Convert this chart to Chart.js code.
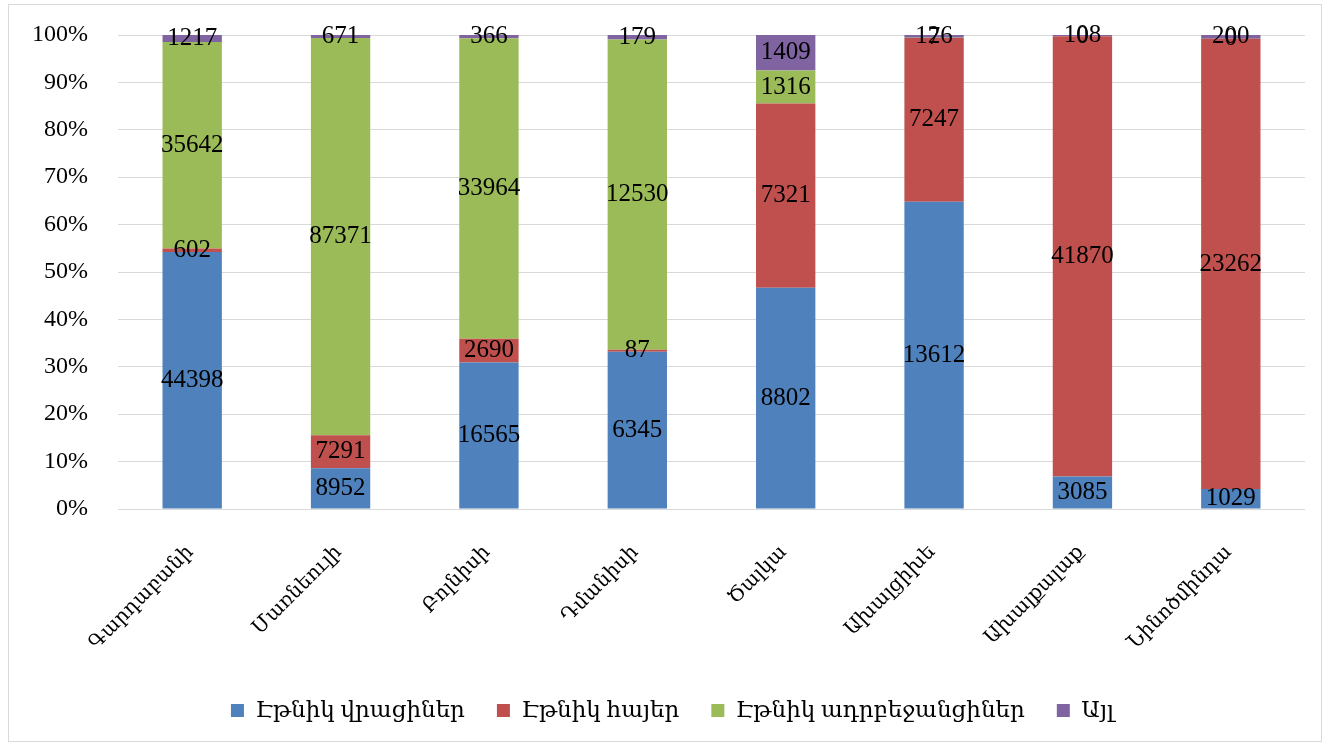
<!DOCTYPE html>
<html>
<head>
<meta charset="utf-8">
<script src="https://cdn.jsdelivr.net/npm/chart.js@4/dist/chart.umd.min.js"></script>
<style>
  html, body { margin: 0; padding: 0; background: #fff; }
  #wrap { width: 1330px; height: 746px; position: relative; }
</style>
</head>
<body>
<div id="wrap"><canvas id="c" width="1330" height="746"></canvas></div>
<script>
// Municipalities
const categories = ["Գարդաբանի", "Մառնեուլի", "Բոլնիսի", "Դմանիսի", "Ծալկա", "Ախալցիխե", "Ախալքալաք", "Նինոծմինդա"];
// Population counts per ethnic group
const georgians    = [44398, 8952, 16565, 6345, 8802, 13612, 3085, 1029];
const armenians    = [602, 7291, 2690, 87, 7321, 7247, 41870, 23262];
const azerbaijanis = [35642, 87371, 33964, 12530, 1316, 7, 0, 0];
const others       = [1217, 671, 366, 179, 1409, 126, 108, 200];
const seriesNames  = ["Էթնիկ վրացիներ", "Էթնիկ հայեր", "Էթնիկ ադրբեջանցիներ", "Այլ"];
const seriesColors = ["#4F81BD", "#C0504D", "#9BBB59", "#8064A2"];
const yTicks = [0, 10, 20, 30, 40, 50, 60, 70, 80, 90, 100];

const FONT = '"Liberation Serif", "DejaVu Serif", serif';
const raw = [georgians, armenians, azerbaijanis, others];
const totals = categories.map((_, i) => raw.reduce((s, arr) => s + arr[i], 0));

const datasets = raw.map((arr, k) => ({
  label: seriesNames[k],
  data: arr.map((v, i) => v / totals[i] * 100),
  counts: arr,
  backgroundColor: seriesColors[k],
  borderWidth: 0,
  barPercentage: 0.4,
  categoryPercentage: 1.0,
  stack: "s"
}));

// Border around the whole chart
const framePlugin = {
  id: "frame",
  beforeDraw(chart) {
    const ctx = chart.ctx;
    ctx.save();
    ctx.fillStyle = "#fff";
    ctx.fillRect(0, 0, chart.width, chart.height);
    ctx.strokeStyle = "#d9d9d9";
    ctx.lineWidth = 1;
    ctx.strokeRect(8.5, 4.5, 1313, 737);
    ctx.restore();
  }
};

// Nudge the legend row a little to the right
const legendShift = {
  id: "legendShift",
  afterLayout(chart) {
    if (chart.legend) {
      chart.legend.left += 20;
      chart.legend.right += 20;
    }
  }
};

// Count labels centred in each bar segment
const countLabels = {
  id: "countLabels",
  afterDatasetsDraw(chart) {
    const ctx = chart.ctx;
    ctx.save();
    ctx.font = "25px " + FONT;
    ctx.fillStyle = "#000";
    ctx.textAlign = "center";
    ctx.textBaseline = "middle";
    chart.data.datasets.forEach((ds, di) => {
      const meta = chart.getDatasetMeta(di);
      meta.data.forEach((bar, i) => {
        const y = (bar.y + bar.base) / 2;
        ctx.fillText(String(ds.counts[i]), bar.x, y);
      });
    });
    ctx.restore();
  }
};

// Category names, slanted 45° and ending under each bar
const categoryLabels = {
  id: "categoryLabels",
  afterDraw(chart) {
    const xs = chart.scales.x;
    const ctx = chart.ctx;
    ctx.save();
    ctx.font = "20px " + FONT;
    ctx.fillStyle = "#000";
    ctx.textAlign = "right";
    ctx.textBaseline = "middle";
    chart.data.labels.forEach((lab, i) => {
      const x = xs.getPixelForTick(i);
      ctx.save();
      ctx.translate(x - 2, xs.top + 40);
      ctx.rotate(-Math.PI / 4);
      ctx.fillText(lab, 0, 0);
      ctx.restore();
    });
    ctx.restore();
  }
};

new Chart(document.getElementById("c"), {
  type: "bar",
  data: { labels: categories, datasets },
  options: {
    responsive: false,
    animation: false,
    layout: { padding: { left: 0, right: 25, top: 35, bottom: 14 } },
    plugins: {
      legend: {
        position: "bottom",
        labels: {
          font: { family: FONT, size: 23 },
          color: "#000",
          boxWidth: 13,
          boxHeight: 13,
          padding: 32
        }
      },
      tooltip: { enabled: false }
    },
    scales: {
      x: {
        stacked: true,
        grid: { display: false, drawTicks: false },
        border: { display: false },
        ticks: { display: false },
        afterFit(s) { s.height = 158; }
      },
      y: {
        stacked: true,
        min: 0,
        max: 100,
        afterBuildTicks(s) { s.ticks = yTicks.map(v => ({ value: v })); },
        grid: {
          color: "#d9d9d9",
          lineWidth: 1,
          drawTicks: true,
          tickLength: 30,
          tickColor: "rgba(0,0,0,0)"
        },
        border: { display: false },
        ticks: {
          font: { family: FONT, size: 24 },
          color: "#000",
          padding: 0,
          callback: v => v + "%"
        },
        afterFit(s) { s.width = 118; }
      }
    }
  },
  plugins: [framePlugin, legendShift, countLabels, categoryLabels]
});
</script>
</body>
</html>
